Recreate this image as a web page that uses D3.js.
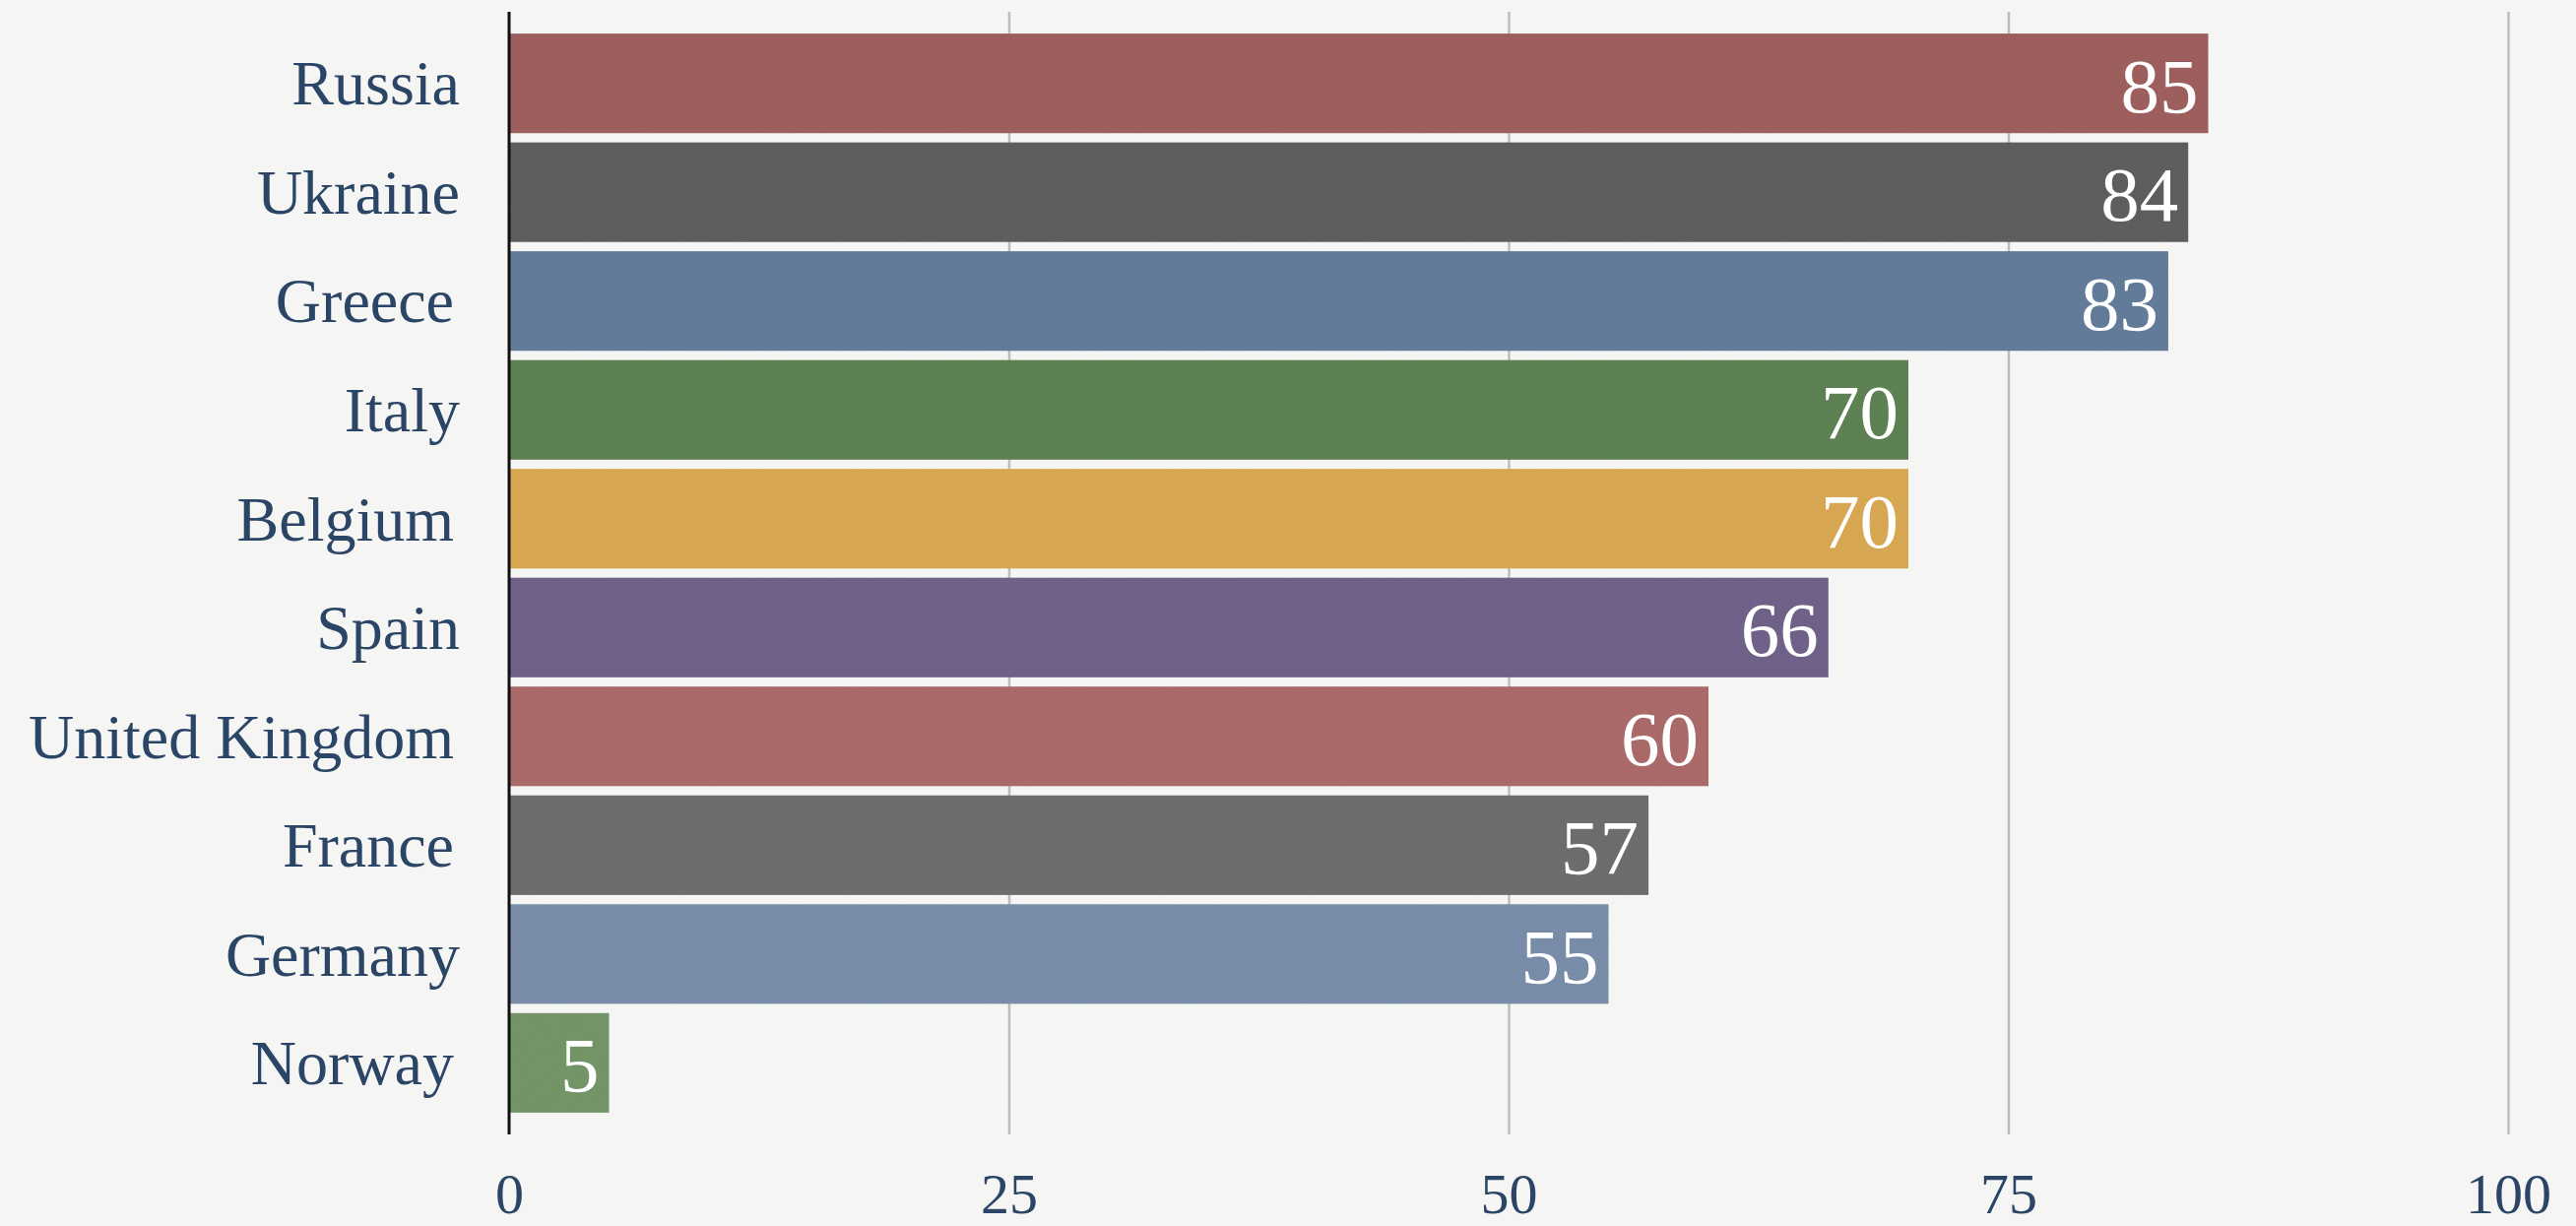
<!DOCTYPE html>
<html>
<head>
<meta charset="utf-8">
<script src="https://cdn.jsdelivr.net/npm/d3@7"></script>
<style>
  html, body { margin: 0; padding: 0; background: #f5f5f4; }
  svg { display: block; }
</style>
</head>
<body>
<svg id="chart" width="2616" height="1245"></svg>
<script>
const categories = ["Russia", "Ukraine", "Greece", "Italy", "Belgium", "Spain", "United Kingdom", "France", "Germany", "Norway"];
const values = [85, 84, 83, 70, 70, 66, 60, 57, 55, 5];
const barColors = ["#9c5b5b", "#5b5b5b", "#5f7998", "#5a7f4f", "#d8a64f", "#6d5e87", "#aa6767", "#6a6a6a", "#768ba8", "#719364"];
const tickValues = [0, 25, 50, 75, 100];
const labelOffsets = [0, 0, 6, 0, 6, 0, 6, 6, 0, 6];

const svg = d3.select("#chart");
const W = 2616, H = 1245;

// subtle paper texture
const defs = svg.append("defs");
const f = defs.append("filter").attr("id", "paper").attr("x", 0).attr("y", 0).attr("width", "100%").attr("height", "100%");
f.append("feTurbulence").attr("type", "fractalNoise").attr("baseFrequency", 0.8).attr("numOctaves", 2).attr("seed", 3).attr("result", "noise");
f.append("feColorMatrix").attr("in", "noise").attr("type", "saturate").attr("values", 0).attr("result", "gray");
f.append("feComposite").attr("in", "gray").attr("in2", "SourceGraphic").attr("operator", "in");

svg.append("rect").attr("width", W).attr("height", H).attr("fill", "#f5f5f4");

const x = d3.scaleLinear().domain([0, 100]).range([517, 2547]);
const y = d3.scaleBand().domain(categories).range([12, 1152]).paddingInner(0.085).paddingOuter(0.2);

// gridlines
const grid = d3.axisBottom(x).tickValues(tickValues.filter(d => d > 0)).tickSize(-(1152 - 12)).tickFormat("");
svg.append("g").attr("transform", "translate(0,1152)").call(grid)
  .call(g => g.select(".domain").remove())
  .call(g => g.selectAll("line").attr("stroke", "#bdbdbd").attr("stroke-width", 2.5));

// bars
const bars = svg.append("g");
bars.selectAll("rect.bar").data(values).join("rect").attr("class", "bar")
  .attr("x", x(0))
  .attr("y", (d, i) => y(categories[i]))
  .attr("width", d => x(d) - x(0))
  .attr("height", y.bandwidth())
  .attr("fill", (d, i) => barColors[i]);
bars.selectAll("rect.tex").data(values).join("rect").attr("class", "tex")
  .attr("x", x(0))
  .attr("y", (d, i) => y(categories[i]))
  .attr("width", d => x(d) - x(0))
  .attr("height", y.bandwidth())
  .attr("fill", "#808080").attr("opacity", 0.06)
  .attr("filter", "url(#paper)");

// value labels
svg.append("g").selectAll("text").data(values).join("text")
  .attr("x", d => x(d) - 10)
  .attr("y", (d, i) => y(categories[i]) + y.bandwidth() / 2 + 29)
  .attr("text-anchor", "end")
  .attr("fill", "#ffffff")
  .attr("font-family", "'Liberation Serif', 'Times New Roman', serif")
  .attr("font-size", 79)
  .text(d => d);

// category axis labels
const yAxis = d3.axisLeft(y).tickSize(0).tickPadding(0);
svg.append("g").attr("transform", "translate(467,0)").call(yAxis)
  .call(g => g.select(".domain").remove())
  .call(g => g.selectAll("text")
    .attr("x", (d, i) => -labelOffsets[i])
    .attr("dy", "0.34em")
    .attr("fill", "#2b4566")
    .attr("font-family", "'Liberation Serif', 'Times New Roman', serif")
    .attr("font-size", 64));

// x tick labels
const xAxis = d3.axisBottom(x).tickValues(tickValues).tickSize(0).tickPadding(0);
svg.append("g").attr("transform", "translate(0,1232)").call(xAxis)
  .call(g => g.select(".domain").remove())
  .call(g => g.selectAll("text")
    .attr("y", 0).attr("dy", 0)
    .attr("fill", "#2b4566")
    .attr("font-family", "'Liberation Serif', 'Times New Roman', serif")
    .attr("font-size", 58));

// y axis line
svg.append("line")
  .attr("x1", x(0)).attr("x2", x(0))
  .attr("y1", 12).attr("y2", 1152)
  .attr("stroke", "#111").attr("stroke-width", 3);
</script>
</body>
</html>
